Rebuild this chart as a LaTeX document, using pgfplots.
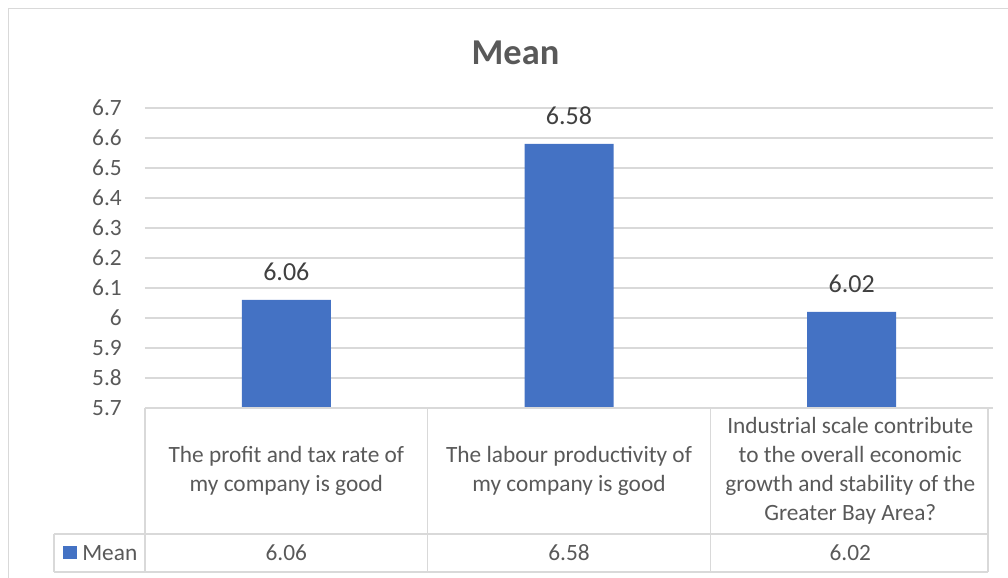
\documentclass[border=0pt]{standalone}
\usepackage{fontspec}
\setmainfont{Carlito}
\usepackage{pgfplots}
\pgfplotsset{compat=1.18}
\definecolor{barblue}{HTML}{4472C4}
\definecolor{txt}{HTML}{595959}
\definecolor{gridc}{HTML}{D9D9D9}
\definecolor{lbl}{HTML}{404040}
\newcommand{\tfont}{\fontsize{17.5}{21.75}\selectfont}
\begin{document}
\begin{tikzpicture}
\useasboundingbox (0,0) rectangle (756pt,433.5pt);
\draw[gridc, line width=1pt] (6.2pt,-2pt) -- (6.2pt,427.3pt) -- (760pt,427.3pt);
\node[text=txt, font=\fontsize{27.3}{32}\selectfont\bfseries, anchor=base, inner sep=0pt] at (386.6pt,384.75pt) {Mean};
\begin{axis}[
  at={(108.75pt,127.5pt)}, anchor=south west,
  scale only axis, width=636pt, height=225pt,
  xmin=-0.5, xmax=2.5, ymin=5.7, ymax=6.7,
  ytick={5.7,5.8,5.9,6,6.1,6.2,6.3,6.4,6.5,6.6,6.7},
  xtick=\empty,
  ymajorgrids,
  major grid style={gridc, line width=0.8pt},
  axis line style={draw=none},
  major tick length=0pt,
  /pgf/number format/assume math mode=true,
  yticklabel style={font=\tfont, text=txt, inner sep=0pt, anchor=east, xshift=-17.25pt},
  clip mode=individual,
  ybar, bar width=66.75pt,
  nodes near coords,
  every node near coord/.append style={font=\fontsize{19.5}{23}\selectfont, text=lbl, anchor=base, yshift=14.25pt, inner sep=0pt},
]
\addplot[fill=barblue, draw=none] coordinates {(0,6.06) (1,6.58) (2,6.02)};
% data table
\draw[gridc, line width=1.1pt] (-0.5,5.7) -- (2.482,5.7);
\draw[gridc, line width=1.1pt] (-0.822,5.28) -- (2.482,5.28);
\draw[gridc, line width=1.1pt] (-0.822,5.1533) -- (2.482,5.1533);
\draw[gridc, line width=1.1pt] (-0.822,5.28) -- (-0.822,5.1533);
\draw[gridc, line width=1.1pt] (-0.5,5.7) -- (-0.5,5.1533);
\draw[gridc, line width=1.1pt] (0.5,5.7) -- (0.5,5.1533);
\draw[gridc, line width=1.1pt] (1.5,5.7) -- (1.5,5.1533);
\draw[gridc, line width=1.1pt] (2.482,5.7) -- (2.482,5.1533);
\node[text=txt, font=\tfont, align=center, inner sep=0pt] at (0,5.49) {The profit and tax rate of\\my company is good};
\node[text=txt, font=\tfont, align=center, inner sep=0pt] at (1,5.49) {The labour productivity of\\my company is good};
\node[text=txt, font=\tfont, align=center, inner sep=0pt] at (1.995,5.49) {Industrial scale contribute\\to the overall economic\\growth and stability of the\\Greater Bay Area?};
\node[text=txt, font=\tfont, inner sep=0pt] at (0,5.2167) {6.06};
\node[text=txt, font=\tfont, inner sep=0pt] at (1,5.2167) {6.58};
\node[text=txt, font=\tfont, inner sep=0pt] at (1.995,5.2167) {6.02};
\fill[barblue] (-0.790,5.1967) rectangle (-0.7406,5.24);
\node[text=txt, font=\tfont, anchor=west, inner sep=0pt] at (-0.7229,5.2167) {Mean};
\end{axis}
\end{tikzpicture}
\end{document}
